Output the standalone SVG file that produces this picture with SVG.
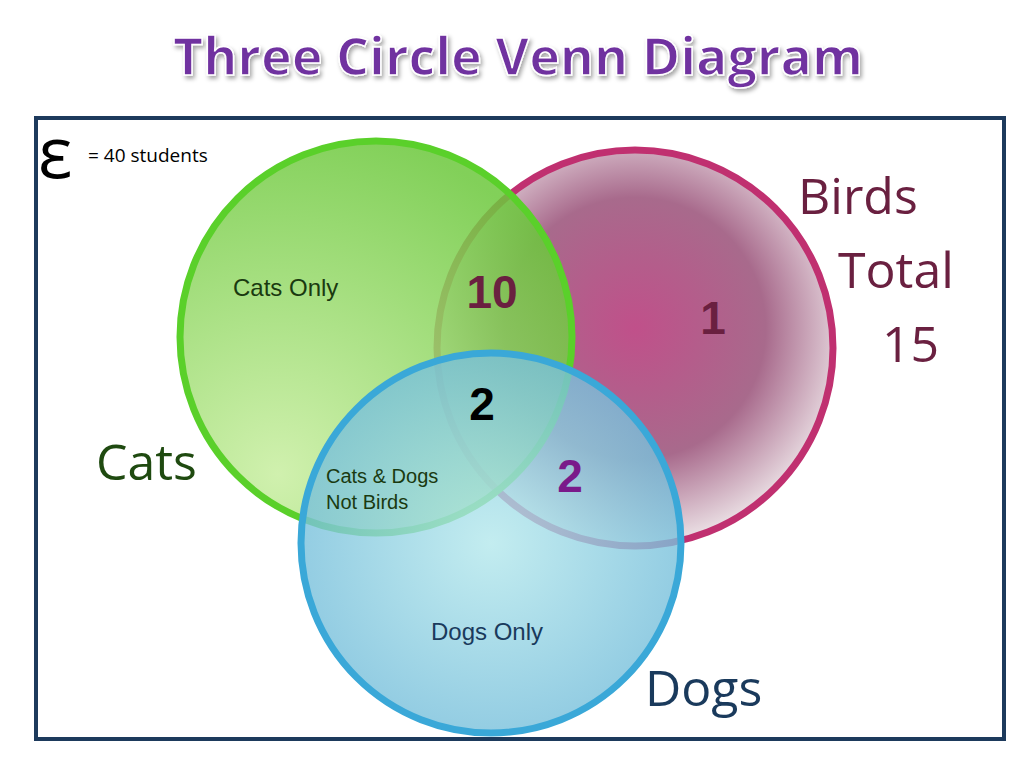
<svg xmlns="http://www.w3.org/2000/svg" width="1024" height="768" viewBox="0 0 1024 768">
<defs>
<radialGradient id="gb" cx="0.5" cy="0.45" r="0.55"><stop offset="0" stop-color="#c0508a"/><stop offset="0.6" stop-color="#a86a8c"/><stop offset="1" stop-color="#ece2e6"/></radialGradient>
<radialGradient id="gc" cx="0.25" cy="0.85" r="0.9"><stop offset="0" stop-color="#c8eea0"/><stop offset="1" stop-color="#6cc83c"/></radialGradient>
<radialGradient id="gd" cx="0.5" cy="0.5" r="0.6"><stop offset="0" stop-color="#b4e8ec"/><stop offset="1" stop-color="#6cb8d8"/></radialGradient>
<filter id="sh"><feDropShadow dx="2" dy="3" stdDeviation="2" flood-color="#000" flood-opacity="0.35"/></filter>
<style>
.t{font-family:"Open Sans","Liberation Sans",sans-serif}
.a{font-family:"Liberation Sans",Arial,sans-serif}
</style>
</defs>
<rect width="1024" height="768" fill="#fff"/>
<text x="518" y="75" text-anchor="middle" class="t" font-size="52" font-weight="bold" fill="#7030a0" stroke="#fff" stroke-width="1.5" filter="url(#sh)">Three Circle Venn Diagram</text>
<rect x="36" y="118" width="968" height="621" fill="none" stroke="#1d3a5c" stroke-width="4"/>
<g id="birds"><circle cx="635" cy="348" r="198" fill="url(#gb)" stroke="#c03070" stroke-width="7"/></g>
<g id="cats"><circle cx="376" cy="337" r="196" fill="url(#gc)" fill-opacity="0.85" stroke="#5ad02a" stroke-width="7"/></g>
<g id="dogs"><circle cx="491" cy="543" r="190" fill="url(#gd)" fill-opacity="0.8" stroke="#3aa8d8" stroke-width="7"/></g>
<text x="38" y="178" class="t" font-size="72" fill="#000">ε</text>
<text x="88" y="162" class="t" font-size="19" fill="#000">= 40 students</text>
<text x="233" y="296" class="a" font-size="24" fill="#1a3a10">Cats Only</text>
<text x="492" y="308" text-anchor="middle" class="a" font-size="46" font-weight="bold" fill="#6a2040">10</text>
<text x="713" y="334" text-anchor="middle" class="a" font-size="46" font-weight="bold" fill="#6a2040">1</text>
<text x="482" y="420" text-anchor="middle" class="a" font-size="46" font-weight="bold" fill="#000">2</text>
<text x="570" y="492" text-anchor="middle" class="a" font-size="46" font-weight="bold" fill="#7a1a8a">2</text>
<text x="326" y="483" class="a" font-size="20" fill="#1a3a10">Cats &amp; Dogs</text>
<text x="326" y="509" class="a" font-size="20" fill="#1a3a10">Not Birds</text>
<text x="487" y="640" text-anchor="middle" class="a" font-size="24" fill="#1a3a5c">Dogs Only</text>
<text x="96" y="480" class="t" font-size="50" fill="#1f4a10">Cats</text>
<text x="798" y="214" class="t" font-size="50" fill="#6a2040">Birds</text>
<text x="838" y="288" class="t" font-size="50" fill="#6a2040">Total</text>
<text x="882" y="362" class="t" font-size="50" fill="#6a2040">15</text>
<text x="645" y="706" class="t" font-size="50" fill="#1a3a5c">Dogs</text>
</svg>
